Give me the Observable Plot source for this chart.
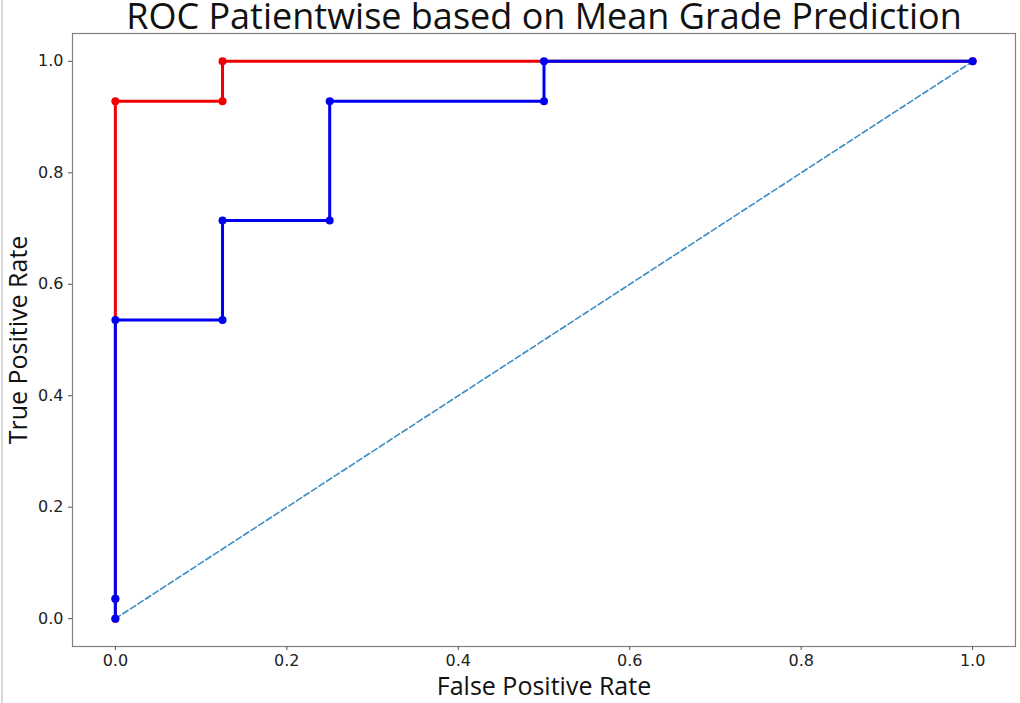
<!DOCTYPE html>
<html>
<head>
<meta charset="utf-8">
<script src="https://cdn.jsdelivr.net/npm/d3@7"></script>
<script src="https://cdn.jsdelivr.net/npm/@observablehq/plot@0.6"></script>
<style>
  html, body { margin: 0; padding: 0; background: #fff; }
  #wrap { position: relative; width: 1020px; height: 703px; }
  #edge { position: absolute; left: 1px; top: 0; width: 2px; height: 703px; background: #d8d8d8; }
</style>
</head>
<body>
<div id="wrap"><div id="edge"></div></div>
<script>
// Data
const redFpr  = [0, 0, 0, 0.125, 0.125, 1];
const redTpr  = [0, 0.0357, 0.9286, 0.9286, 1, 1];
const blueFpr = [0, 0, 0, 0.125, 0.125, 0.25, 0.25, 0.5, 0.5, 1];
const blueTpr = [0, 0.0357, 0.5357, 0.5357, 0.7143, 0.7143, 0.9286, 0.9286, 1, 1];
const chanceFpr = [0, 1];
const chanceTpr = [0, 1];
const ticks = [0, 0.2, 0.4, 0.6, 0.8, 1.0];
const title = "ROC Patientwise based on Mean Grade Prediction";
const xLabel = "False Positive Rate";
const yLabel = "True Positive Rate";

const red = redFpr.map((x, i) => ({x, y: redTpr[i]}));
const blue = blueFpr.map((x, i) => ({x, y: blueTpr[i]}));
const chance = chanceFpr.map((x, i) => ({x, y: chanceTpr[i]}));

const labelFont = "'Open Sans', 'Noto Sans', sans-serif";

const chart = Plot.plot({
  width: 1020,
  height: 703,
  marginLeft: 72,
  marginRight: 5,
  marginTop: 33,
  marginBottom: 57,
  style: { fontFamily: "'DejaVu Sans', sans-serif", background: "transparent", overflow: "visible" },
  x: { domain: [-0.05, 1.05] },
  y: { domain: [-0.05, 1.05] },
  marks: [
    Plot.frame({ stroke: "#808080", strokeWidth: 1.2 }),
    Plot.axisX({ ticks, tickFormat: d3.format(".1f"), tickSize: 4, tickPadding: 4, fontSize: 16, label: null, stroke: "#555", color: "#222" }),
    Plot.axisY({ ticks, tickFormat: d3.format(".1f"), tickSize: 4, tickPadding: 5, fontSize: 16, label: null, stroke: "#555", color: "#222" }),
    Plot.line(red, { x: "x", y: "y", stroke: "#f00000", strokeWidth: 3 }),
    Plot.dot(red, { x: "x", y: "y", r: 4, fill: "#f00000", stroke: "none" }),
    Plot.line(chance, { x: "x", y: "y", stroke: "#3a8cc4", strokeWidth: 1.6, strokeDasharray: "6,3" }),
    Plot.line(blue, { x: "x", y: "y", stroke: "#0000f0", strokeWidth: 3 }),
    Plot.dot(blue, { x: "x", y: "y", r: 4, fill: "#0000f0", stroke: "none" }),
    Plot.text([title], { frameAnchor: "top", lineAnchor: "middle", dy: -16, fontSize: 36, fontFamily: labelFont, fill: "#111", text: d => d }),
    Plot.text([xLabel], { frameAnchor: "bottom", lineAnchor: "middle", dy: 40, fontSize: 25, fontFamily: labelFont, fill: "#111", text: d => d }),
    Plot.text([yLabel], { frameAnchor: "left", textAnchor: "middle", lineAnchor: "middle", dx: -54, rotate: -90, fontSize: 25, fontFamily: labelFont, fill: "#111", text: d => d })
  ]
});
document.getElementById("wrap").appendChild(chart);
chart.style.position = "absolute";
chart.style.left = "0";
chart.style.top = "0";
</script>
</body>
</html>
